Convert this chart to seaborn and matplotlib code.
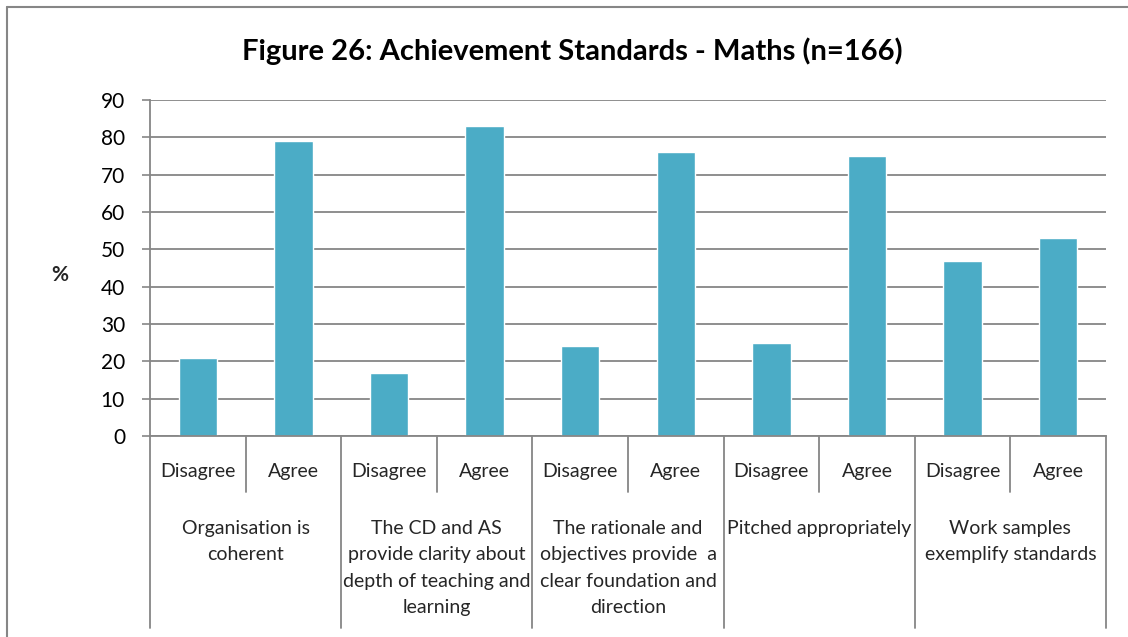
import pandas as pd
import seaborn as sns
import matplotlib.pyplot as plt
from matplotlib.lines import Line2D
from matplotlib.transforms import blended_transform_factory

items = [
    "Organisation is\ncoherent",
    "The CD and AS\nprovide clarity about\ndepth of teaching and\nlearning",
    "The rationale and\nobjectives provide  a\nclear foundation and\ndirection",
    "Pitched appropriately",
    "Work samples\nexemplify standards",
]
responses = ["Disagree", "Agree"]
disagree = [21, 17, 24, 25, 47]
agree = [79, 83, 76, 75, 53]

rows = []
for i, item in enumerate(items):
    rows.append({"key": f"{i}-D", "item": item, "response": "Disagree", "pct": disagree[i]})
    rows.append({"key": f"{i}-A", "item": item, "response": "Agree", "pct": agree[i]})
df = pd.DataFrame(rows)

sns.set_style("white")
plt.rcParams["font.family"] = ["Lato", "DejaVu Sans"]

bar_color = "#4BACC6"
line_color = "#868686"

fig = plt.figure(figsize=(11.28, 6.37), dpi=100)
ax = fig.add_axes([150 / 1128, 1 - 436 / 637, 956 / 1128, 336 / 637])

sns.barplot(data=df, x="key", y="pct", color=bar_color, width=0.4,
            saturation=1, ax=ax, errorbar=None)

ax.set_ylim(0, 90)
ax.set_xlim(-0.5, len(df) - 0.5)
ax.set_yticks(range(0, 91, 10))
ax.yaxis.grid(True, color=line_color, linewidth=1.3)
ax.set_axisbelow(True)
ax.tick_params(axis="y", labelsize=15, length=6, width=1.2, color=line_color,
               pad=12, left=True, labelcolor="black")
ax.set_xticks([])
ax.set_xlabel("")
ax.set_ylabel("")
for side in ["top", "right"]:
    ax.spines[side].set_visible(False)
for side in ["left", "bottom"]:
    ax.spines[side].set_color(line_color)
    ax.spines[side].set_linewidth(1.3)

# two-level category axis, Excel style
trans = blended_transform_factory(ax.transData, ax.transAxes)
for j, resp in enumerate(df["response"]):
    ax.text(j, -0.107, resp, transform=trans, ha="center", va="center", fontsize=14)
for j in range(len(df) + 1):
    bottom = -0.571 if j % 2 == 0 else -0.167
    ax.plot([j - 0.5, j - 0.5], [0, bottom], transform=trans, color=line_color,
            linewidth=1.3, clip_on=False)
for i, item in enumerate(items):
    ax.text(2 * i + 0.5, -0.25, item, transform=trans, ha="center", va="top",
            fontsize=14, linespacing=1.67)

fig.text(0.507, 0.92, "Figure 26: Achievement Standards - Maths (n=166)",
         ha="center", va="center", fontsize=21, fontweight="bold", color="black")
fig.text(0.053, 0.568, "%", ha="center", va="center", fontsize=15, fontweight="bold")

# chart frame
fig.add_artist(Line2D([7 / 1128, 7 / 1128], [0, 1 - 7 / 637], color=line_color, linewidth=1.5))
fig.add_artist(Line2D([7 / 1128, 1], [1 - 7 / 637, 1 - 7 / 637], color=line_color, linewidth=1.5))

fig.savefig("out.png", dpi=100)
